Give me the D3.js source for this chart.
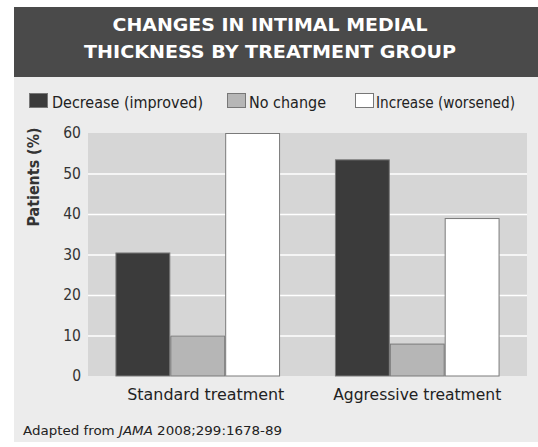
<!DOCTYPE html>
<html><head><meta charset="utf-8">
<script src="https://cdn.jsdelivr.net/npm/d3@7"></script>
<style>body{margin:0;background:#fff}svg{display:block}</style>
</head><body>
<svg id="c" width="538" height="447"></svg>
<script>
const titleLines = ["CHANGES IN INTIMAL MEDIAL", "THICKNESS BY TREATMENT GROUP"];
const categories = ["Standard treatment", "Aggressive treatment"];
const seriesNames = ["Decrease (improved)", "No change", "Increase (worsened)"];
const decreaseVals = [30.5, 53.5];
const noChangeVals = [10, 8];
const increaseVals = [60, 39];
const yTicks = [0, 10, 20, 30, 40, 50, 60];
const yTitle = "Patients (%)";
const colors = ["#3b3b3b", "#b6b6b6", "#ffffff"];

(function () {
const series = [decreaseVals, noChangeVals, increaseVals];
const svg = d3.select("#c");
const font = "'Open Sans', sans-serif";
const cond = "'DejaVu Sans Condensed', 'Open Sans', sans-serif";

// backgrounds
svg.append("rect").attr("x", 14).attr("y", 77).attr("width", 524).attr("height", 365).attr("fill", "#ececec");
svg.append("rect").attr("x", 14).attr("y", 7).attr("width", 524).attr("height", 70).attr("fill", "#4a4a4a");

// title
const tl = [{t: titleLines[0], y: 31, w: 315}, {t: titleLines[1], y: 58, w: 372}];
tl.forEach(d => {
  svg.append("text").attr("x", 270).attr("y", d.y).attr("text-anchor", "middle")
    .attr("font-family", cond).attr("font-weight", "bold").attr("font-size", 18)
    .attr("fill", "#fff").attr("textLength", d.w).attr("lengthAdjust", "spacingAndGlyphs").text(d.t);
});

// legend
const legendItems = [
  {sx: 29, tx: 52, tw: 151},
  {sx: 227, tx: 249, tw: 77},
  {sx: 355, tx: 376, tw: 139}
];
legendItems.forEach((d, i) => {
  svg.append("rect").attr("x", d.sx + 0.5).attr("y", 93.5).attr("width", 18).attr("height", 14)
    .attr("fill", colors[i]).attr("stroke", "#777").attr("stroke-width", 1);
  svg.append("text").attr("x", d.tx).attr("y", 107.5).attr("font-family", cond).attr("font-size", 15.5)
    .attr("fill", "#222").attr("textLength", d.tw).attr("lengthAdjust", "spacingAndGlyphs").text(seriesNames[i]);
});

// plot
const pL = 88, pR = 527, pT = 133, pB = 376;
const x = d3.scaleBand().domain(categories).range([pL, pR]).paddingInner(0.25).paddingOuter(0.125);
const xs = d3.scaleBand().domain(d3.range(3)).range([0, x.bandwidth()]);
const y = d3.scaleLinear().domain([0, 60]).range([pB, pT]);

svg.append("rect").attr("x", pL).attr("y", pT).attr("width", pR - pL).attr("height", pB - pT).attr("fill", "#d6d6d6");

const yAxis = d3.axisLeft(y).tickValues(yTicks).tickSize(-(pR - pL)).tickPadding(7);
const ga = svg.append("g").attr("transform", `translate(${pL},0)`).call(yAxis);
ga.select(".domain").remove();
ga.selectAll(".tick line").attr("stroke", "#fff").attr("stroke-width", 1.6);
ga.selectAll(".tick").filter(d => d === 0 || d === 60).select("line").remove();
ga.selectAll(".tick text").attr("font-family", cond).attr("font-size", 15.5).attr("fill", "#333");

// bars
categories.forEach((c, ci) => {
  series.forEach((s, si) => {
    const v = s[ci];
    svg.append("rect")
      .attr("x", x(c) + xs(si) + 0.5).attr("y", y(v) + 0.5)
      .attr("width", xs.bandwidth() - 1).attr("height", y(0) - y(v) - 0.5)
      .attr("fill", colors[si]).attr("stroke", "#7a7a7a").attr("stroke-width", 1);
  });
});

// category labels
const catW = [157, 168];
const catOff = [8, 0];
categories.forEach((c, ci) => {
  svg.append("text").attr("x", x(c) + x.bandwidth() / 2 + catOff[ci]).attr("y", 399.5)
    .attr("text-anchor", "middle").attr("font-family", cond).attr("font-size", 16).attr("fill", "#222")
    .attr("textLength", catW[ci]).attr("lengthAdjust", "spacingAndGlyphs").text(c);
});

// y title
svg.append("text").attr("transform", "translate(39,177) rotate(-90)").attr("text-anchor", "middle")
  .attr("font-family", cond).attr("font-weight", "bold").attr("font-size", 16).attr("fill", "#333")
  .attr("textLength", 99).attr("lengthAdjust", "spacingAndGlyphs").text(yTitle);

// source
const src = svg.append("text").attr("x", 23).attr("y", 435).attr("font-family", cond).attr("font-size", 13)
  .attr("fill", "#222").attr("textLength", 259).attr("lengthAdjust", "spacingAndGlyphs");
src.append("tspan").text("Adapted from ");
src.append("tspan").attr("font-style", "italic").text("JAMA");
src.append("tspan").text(" 2008;299:1678-89");
})();
</script>
</body></html>
